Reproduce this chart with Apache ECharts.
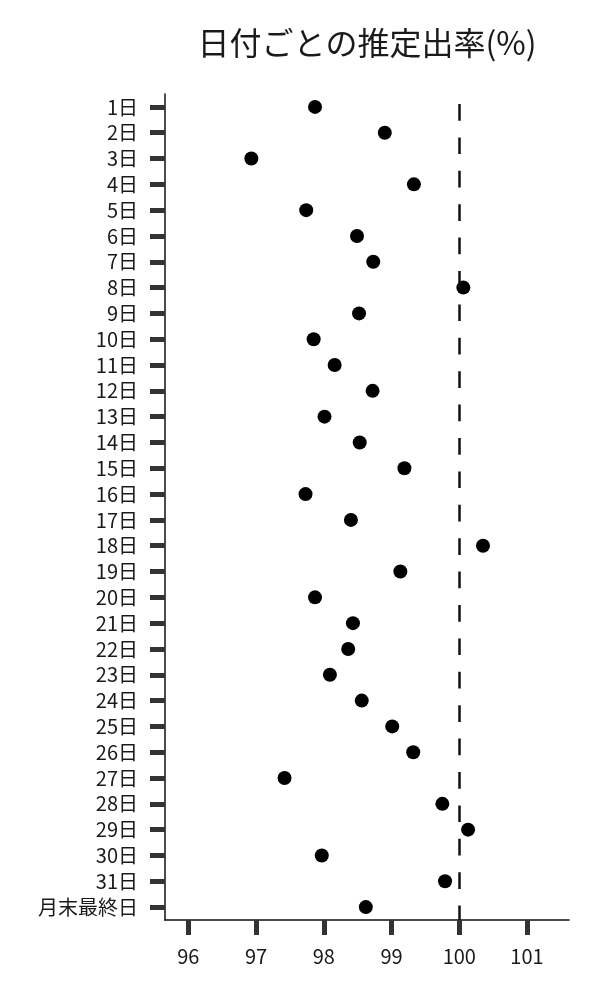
<!DOCTYPE html>
<html>
<head>
<meta charset="utf-8">
<script src="https://cdn.jsdelivr.net/npm/echarts@6/dist/echarts.min.js"></script>
<style>
  html, body { margin: 0; padding: 0; background: #fff; }
  #chart { width: 600px; height: 1000px; }
</style>
</head>
<body>
<div id="chart"></div>
<script>
// 日付ラベル
var days = ['1日', '2日', '3日', '4日', '5日', '6日', '7日', '8日', '9日', '10日',
  '11日', '12日', '13日', '14日', '15日', '16日', '17日', '18日', '19日', '20日',
  '21日', '22日', '23日', '24日', '25日', '26日', '27日', '28日', '29日', '30日',
  '31日', '月末最終日'];

// 推定出率(%)
var rates = [97.87, 98.90, 96.93, 99.33, 97.74, 98.49, 98.73, 100.06, 98.52, 97.85,
  98.16, 98.72, 98.01, 98.53, 99.19, 97.73, 98.40, 100.35, 99.13, 97.87,
  98.43, 98.36, 98.09, 98.56, 99.01, 99.32, 97.42, 99.75, 100.13, 97.97,
  99.79, 98.62];

// x軸の目盛り
var xTicks = [96, 97, 98, 99, 100, 101];

var refLine = 100;

var font = '"Noto Sans CJK JP", "Noto Sans", sans-serif';

var chart = echarts.init(document.getElementById('chart'));
chart.setOption({
  animation: false,
  title: {
    text: '日付ごとの推定出率(%)',
    left: 362,
    textAlign: 'center',
    top: 22,
    textStyle: {
      fontFamily: font,
      fontSize: 32,
      fontWeight: 'normal',
      color: '#1a1a1a'
    }
  },
  grid: {
    left: 165,
    right: 31,
    top: 94,
    bottom: 80
  },
  xAxis: {
    type: 'value',
    min: 95.655,
    max: 101.62,
    splitLine: { show: false },
    axisLine: { show: true, onZero: false, lineStyle: { color: '#111', width: 1.5 } },
    axisTick: { show: true, length: 15, customValues: xTicks, lineStyle: { color: '#333', width: 5 } },
    axisLabel: {
      margin: 26,
      fontFamily: font,
      fontSize: 20,
      color: '#1a1a1a',
      customValues: xTicks
    }
  },
  yAxis: {
    type: 'category',
    data: days,
    inverse: true,
    boundaryGap: true,
    axisLine: { show: true, lineStyle: { color: '#111', width: 1.5 } },
    axisTick: { show: true, interval: 0, alignWithLabel: true, length: 15, lineStyle: { color: '#333', width: 5 } },
    splitLine: { show: false },
    axisLabel: {
      interval: 0,
      margin: 27,
      fontFamily: font,
      fontSize: 20,
      color: '#1a1a1a'
    }
  },
  series: [{
    type: 'scatter',
    data: rates,
    symbol: 'circle',
    symbolSize: 14,
    itemStyle: { color: '#000', opacity: 1 },
    markLine: {
      silent: true,
      symbol: 'none',
      label: { show: false },
      lineStyle: { color: '#111', width: 2.5, type: [16.7, 16.7], dashOffset: 23.4 },
      data: [{ xAxis: refLine }]
    }
  }]
});
</script>
</body>
</html>
